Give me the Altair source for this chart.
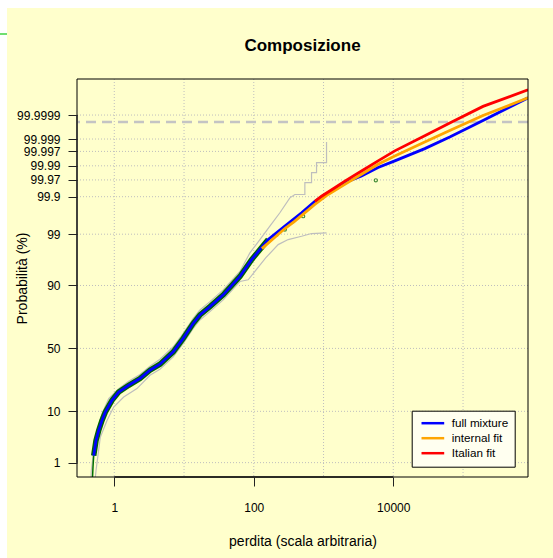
import altair as alt
import pandas as pd
from statistics import NormalDist

FONT = "Liberation Sans"

TITLE = "Composizione"
X_TITLE = "perdita (scala arbitraria)"
Y_TITLE = "Probabilità (%)"

# axis limits and ticks (loss on log scale, probability on a normal-probability scale)
X_DOMAIN = [0.292, 853700]
Y_DOMAIN_PCT = [0.441, 99.99999796]
X_TICKS = [1, 100, 10000]
X_GRID = [1, 10, 100, 1000, 10000, 100000]
Y_TICKS_PCT = [1, 10, 50, 90, 99, 99.9, 99.97, 99.99, 99.997, 99.999, 99.9999]
Y_TICK_LABELS = ["1", "10", "50", "90", "99", "99.9", "99.97", "99.99", "99.997", "99.999", "99.9999"]
THRESHOLD_PCT = [99.9998]

SERIES = ["full mixture", "internal fit", "Italian fit"]
SERIES_COLORS = ["#0000FF", "#FFA500", "#FF0000"]

# fitted curves (loss, cumulative probability %)
full_x = [0.5069, 0.5467, 0.5977, 0.6664, 0.7431, 0.9269, 1.156, 1.608, 2.334, 3.247,
          4.515, 7.003, 9.739, 13.55, 16.90, 23.50, 36.44, 63.22, 93.01, 160.8,
          279.0, 484.0, 750.6, 1164, 2020, 3503, 6056, 10510, 28270, 64510, 193400, 853700]
full_p = [1.45, 3.03, 4.73, 7.12, 9.72, 14.50, 18.72, 22.63, 26.96, 32.85,
          37.41, 47.23, 58.11, 69.56, 75.23, 80.28, 86.24, 92.86, 96.47, 98.669,
          99.360, 99.714, 99.86365, 99.92385, 99.96319, 99.97770, 99.98851, 99.993298,
          99.997638, 99.9991631, 99.9998277, 99.99998335]

internal_x = [130.6, 279.0, 388.0, 750.6, 1164, 2020, 3503, 6056, 10510, 28270, 64510,
              193400, 853700]
internal_p = [97.90, 99.270, 99.522, 99.8323, 99.91413, 99.95821, 99.98045, 99.991201,
              99.995596, 99.9986803, 99.9995462, 99.99989573, 99.99998335]

italian_x = [750.6, 936.0, 1452, 2020, 3503, 6056, 10510, 28270, 64510, 193400, 853700]
italian_p = [99.86365, 99.90326, 99.94678, 99.967353, 99.984927, 99.993298, 99.997138,
             99.9992582, 99.99977988, 99.99995875, 99.99999307]

# empirical distribution
emp_x = [0.4872, 0.4953, 0.5069, 0.5467, 0.5977, 0.6664, 0.7431, 0.9269, 1.156, 1.608,
         2.334, 3.247, 4.515, 7.003, 9.739, 13.55, 16.90, 23.50, 36.44, 63.22, 93.01, 160.8]
emp_p = [0.421, 0.80, 1.45, 3.03, 4.73, 7.12, 9.72, 14.50, 18.72, 22.63,
         26.96, 32.85, 37.41, 47.23, 58.11, 69.56, 75.23, 80.28, 86.24, 92.86, 96.47, 98.669]
emp_pts_x = [129.3, 212.1, 279.0, 366.9, 510.3, 5615]
emp_pts_p = [97.97, 98.981, 99.228, 99.522, 99.647, 99.96906]

# confidence envelope
upper_x = [0.4636, 0.4682, 0.5342, 0.6664, 0.8313, 1.156, 1.608, 2.334, 3.247, 4.515,
           7.003, 9.739, 13.55, 16.90, 23.50, 36.44, 63.22, 87.93, 122.3, 170.1,
           236.6, 329.0, 388.0, 539.7, 539.7, 673.0, 673.0, 793.6, 793.6, 1104, 1104]
upper_p = [0.421, 0.637, 3.52, 9.16, 15.29, 20.64, 25.17, 29.74, 35.86, 41.33,
           51.31, 62.06, 73.04, 78.35, 82.99, 88.36, 94.16, 97.41, 98.669, 99.360,
           99.714, 99.8919, 99.91413, 99.91413, 99.96319, 99.96319, 99.98290, 99.98290,
           99.99234, 99.99234, 99.9986815]
lower_x = [0.5342, 0.5467, 0.6302, 0.7860, 0.9804, 1.364, 2.115, 3.247, 4.515, 7.003,
           9.739, 13.55, 16.90, 23.50, 36.44, 63.22, 83.13, 149.1, 223.7, 311.1,
           484.0, 673.0, 1104]
lower_p = [0.421, 0.637, 3.52, 7.12, 11.60, 16.09, 20.64, 29.23, 33.59, 43.17,
           54.08, 65.89, 71.88, 77.31, 83.86, 91.36, 91.90, 96.77, 98.277, 98.669,
           98.883, 99.035, 99.071]

W, H = 451, 398
PAD = {"left": 77, "top": 79, "right": 25, "bottom": 81}

N = NormalDist()


def zpos(pct):
    return N.inv_cdf(pct / 100.0)


Y_DOM = [zpos(p) for p in Y_DOMAIN_PCT]
Y_TICK_POS = [zpos(p) for p in Y_TICKS_PCT]
label_expr = "''"
for pos, lab in reversed(list(zip(Y_TICK_POS, Y_TICK_LABELS))):
    label_expr = f"abs(datum.value - ({pos:.10f})) < 1e-6 ? '{lab}' : ({label_expr})"

Z_CALC = "quantileNormal(datum.p / 100)"


def frame(xs, ps, series=None):
    df = pd.DataFrame({"x": xs, "p": ps, "i": list(range(len(xs)))})
    if series is not None:
        df["series"] = series
    return df


X_ENC = alt.X(
    "x:Q", title=X_TITLE,
    scale=alt.Scale(type="log", domain=X_DOMAIN, nice=False),
    axis=alt.Axis(values=X_TICKS, format="d", grid=False, domain=False, tickSize=9,
                  tickColor="#222222", labelPadding=16, labelFontSize=12, labelColor="black",
                  labelFont=FONT, labelOverlap=False, labelFlush=False, zindex=1,
                  titleFontSize=14, titleFontWeight="normal", titleFont=FONT, titleColor="black",
                  titleX=W / 2, titleY=68, titleBaseline="alphabetic", titleAlign="center"),
)
Y_ENC = alt.Y(
    "z:Q", title=Y_TITLE,
    scale=alt.Scale(domain=Y_DOM, nice=False, zero=False),
    axis=alt.Axis(values=Y_TICK_POS, labelExpr=label_expr, grid=False, domain=False, tickSize=9,
                  tickColor="#222222", labelPadding=8, labelFontSize=12, labelColor="black",
                  labelFont=FONT, labelOverlap=False, labelFlush=False, zindex=1,
                  titleFontSize=14, titleFontWeight="normal", titleFont=FONT, titleColor="black",
                  titleAngle=270, titleX=-51, titleY=H / 2, titleBaseline="alphabetic",
                  titleAlign="center"),
)

# page background (light yellow panel offset from the page edge)
bg = alt.Chart(pd.DataFrame({"k": [0]})).mark_rect(color="#FFFFCC").encode(
    x=alt.value(-70), x2=alt.value(W + PAD["right"]),
    y=alt.value(-71), y2=alt.value(H + PAD["bottom"]))
edge_mark = alt.Chart(pd.DataFrame({"k": [0]})).mark_rule(color="#22CC22", strokeWidth=1.3).encode(
    x=alt.value(-77), x2=alt.value(-70), y=alt.value(-45))

title_mark = alt.Chart(pd.DataFrame({"t": [TITLE]})).mark_text(
    font=FONT, fontSize=17, fontWeight="bold", color="black", align="center",
    baseline="alphabetic").encode(text="t:N", x=alt.value(W / 2), y=alt.value(-28))

xgrid = alt.Chart(pd.DataFrame({"x": X_GRID})).mark_rule(
    color="#BEBEBE", strokeDash=[1, 2], strokeWidth=1).encode(x=X_ENC)
ygrid = alt.Chart(pd.DataFrame({"p": Y_TICKS_PCT})).transform_calculate(z=Z_CALC).mark_rule(
    color="#BEBEBE", strokeDash=[1, 2], strokeWidth=1).encode(y=Y_ENC)

thresh = alt.Chart(pd.DataFrame({"p": THRESHOLD_PCT})).transform_calculate(z=Z_CALC).mark_rule(
    color="#C4C4C4", strokeDash=[10, 6], strokeWidth=2.6).encode(y=Y_ENC)


def line(df, color, width):
    return alt.Chart(df).transform_calculate(z=Z_CALC).mark_line(
        color=color, strokeWidth=width, clip=True).encode(x=X_ENC, y=Y_ENC, order="i:Q")


env_up = line(frame(upper_x, upper_p), "#BEBEBE", 1.2)
env_lo = line(frame(lower_x, lower_p), "#BEBEBE", 1.2)
emp_thin = line(frame(emp_x[:3], emp_p[:3]), "#007000", 1.5)
emp_thick = line(frame(emp_x[2:], emp_p[2:]), "#006400", 5.5)
emp_pts = alt.Chart(frame(emp_pts_x, emp_pts_p)).transform_calculate(z=Z_CALC).mark_point(
    shape="circle", size=10, filled=False, color="#006400", strokeWidth=1.2, clip=True).encode(
    x=X_ENC, y=Y_ENC)

models = pd.concat([
    frame(full_x, full_p, SERIES[0]),
    frame(internal_x, internal_p, SERIES[1]),
    frame(italian_x, italian_p, SERIES[2]),
], ignore_index=True)

model_lines = alt.Chart(models).transform_calculate(z=Z_CALC).mark_line(
    strokeWidth=2.8, clip=True).encode(
    x=X_ENC, y=Y_ENC, order="i:Q",
    color=alt.Color("series:N", scale=alt.Scale(domain=SERIES, range=SERIES_COLORS),
                    sort=SERIES,
                    legend=alt.Legend(title=None, orient="none", legendX=334.7, legendY=331.7,
                                      fillColor="#FFFFF0", strokeColor="#000000",
                                      padding=6, symbolType="M-0.54,0H4", symbolSize=100,
                                      symbolStrokeWidth=2.5, labelFontSize=11.7, labelFont=FONT,
                                      labelColor="black", labelOffset=21, rowPadding=1,
                                      cornerRadius=0)),
)

# plot frame and axis line segments spanning the labelled tick range
box = alt.Chart(pd.DataFrame({"k": [0]})).mark_rect(
    filled=False, stroke="#000000", strokeWidth=1).encode(
    x=alt.value(0), x2=alt.value(W), y=alt.value(0), y2=alt.value(H))
xseg = alt.Chart(pd.DataFrame({"x": [X_TICKS[0]], "x2": [X_TICKS[-1]]})).mark_rule(
    color="#111111", strokeWidth=1.6).encode(x=X_ENC, x2="x2:Q", y=alt.value(H))
yseg = alt.Chart(pd.DataFrame({"p": [Y_TICKS_PCT[0]], "p2": [Y_TICKS_PCT[-1]]})).transform_calculate(
    z=Z_CALC, z2="quantileNormal(datum.p2 / 100)").mark_rule(
    color="#333333", strokeWidth=1.6).encode(y=Y_ENC, y2="z2:Q", x=alt.value(0))

chart = alt.layer(
    bg, edge_mark, title_mark, xgrid, ygrid, thresh, env_up, env_lo, emp_thin, emp_thick,
    emp_pts, model_lines, box, xseg, yseg,
).properties(
    width=W, height=H,
    autosize=alt.AutoSizeParams(type="none"),
    padding=PAD,
    background="white",
).configure_view(strokeWidth=0)

chart.save("out.html", embed_options={"renderer": "svg", "actions": False})
